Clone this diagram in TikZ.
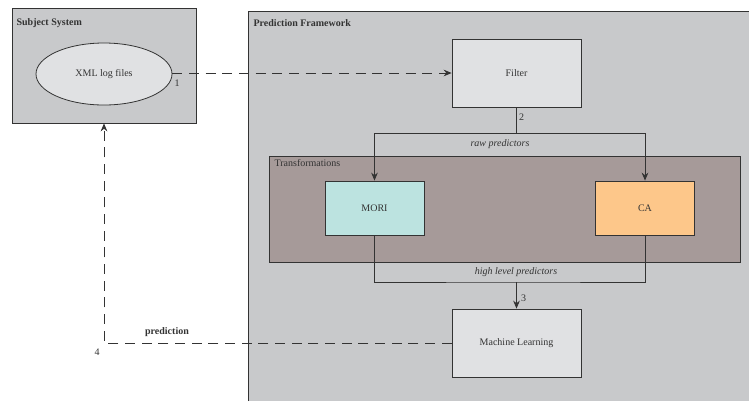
\documentclass[tikz,border=0pt]{standalone}
\usepackage{fontspec}
\setmainfont{Liberation Serif}
\usetikzlibrary{arrows.meta, shapes.geometric, calc}
\definecolor{framegray}{HTML}{C8C9CB}
\definecolor{boxgray}{HTML}{E0E1E3}
\definecolor{transbrown}{HTML}{A69A99}
\definecolor{moricyan}{HTML}{BCE3E0}
\definecolor{caorange}{HTML}{FDC78A}
\definecolor{ink}{HTML}{333333}
\tikzset{
  stage/.style={
    rectangle, draw=ink, line width=0.6pt, fill=boxgray,
    minimum width=96.75pt, minimum height=51pt, text=ink
  },
  method/.style={
    rectangle, draw=ink, line width=0.6pt,
    minimum width=74.25pt, minimum height=40.5pt, text=ink
  },
  group/.style={
    rectangle, draw=ink, line width=0.6pt, inner sep=0pt
  },
  tag/.style={text=ink, inner sep=1pt},
  flow/.style={
    -{Stealth[length=6pt, width=5pt, inset=2pt]}, line width=0.6pt, draw=ink
  },
  feedback/.style={
    line width=0.6pt, draw=ink, dash pattern=on 7.5pt off 5pt
  }
}

\begin{document}
\begin{tikzpicture}[x=0.75pt, y=-0.75pt, font=\fontsize{7.5}{9}\selectfont]
\useasboundingbox (0,0) rectangle (749,401);
% containers
\fill[framegray] (248,11) rectangle (749,401);
\draw[ink, line width=0.6pt] (248,401) -- (248,11) -- (749,11);
\node[tag, anchor=west, font=\fontsize{7.5}{9}\selectfont\bfseries] (pftitle) at (252,23) {Prediction Framework};
\node[group, fill=framegray, minimum width=138pt, minimum height=86.25pt] (subject) at (104,65.5) {};
\node[tag, anchor=west, font=\fontsize{7.5}{9}\selectfont\bfseries] (sstitle) at (15,23) {Subject System};
\node[group, fill=transbrown, minimum width=353.25pt, minimum height=79.5pt] (trans) at (504.5,209) {};
\node[tag, anchor=west] (transtitle) at (273,163) {Transformations};

% nodes
\node[ellipse, draw=ink, line width=0.6pt, fill=boxgray, minimum width=102pt, minimum height=46.5pt, text=ink] (logs) at (104,74) {XML log files};
\node[stage] (filter) at (516.5,73) {Filter};
\node[method, fill=moricyan] (mori) at (374.5,208) {MORI};
\node[method, fill=caorange] (ca) at (645,208) {CA};
\node[stage] (ml) at (516.5,343) {Machine Learning};

% connectors
\draw[flow, feedback] (logs.east |- filter.west) -- (filter.west);
\node[tag] (n1) at (177,83) {1};
\draw[ink, line width=0.6pt] (filter.south) -- ++(0,26) coordinate (split);
\draw[flow] (split) -| (mori.north);
\draw[flow] (split) -| (ca.north);
\node[tag] (n2) at (521.5,117) {2};
\node[tag, font=\fontsize{7.5}{9}\selectfont\itshape] (raw) at (500,144) {raw predictors};
\coordinate (merge) at (516.5,282);
\draw[ink, line width=0.6pt] (mori.south) |- (merge) -| (ca.south);
\draw[flow] (merge) -- (ml.north);
\node[tag] (n3) at (523.5,298) {3};
\node[tag, font=\fontsize{7.5}{9}\selectfont\itshape] (high) at (516,272) {high level predictors};
\draw[flow, feedback] (ml.west) -| (subject.south);
\node[tag, font=\fontsize{7.5}{9}\selectfont\bfseries] (pred) at (167,332) {prediction};
\node[tag] (n4) at (97,352) {4};
\end{tikzpicture}
\end{document}
